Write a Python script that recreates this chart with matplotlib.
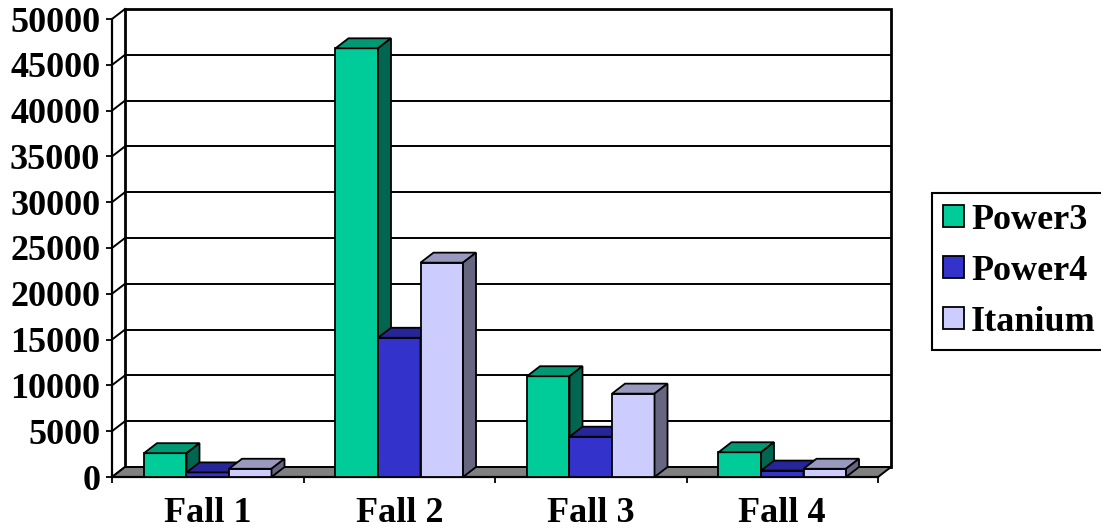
import matplotlib
matplotlib.use('Agg')
from matplotlib import pyplot as plt
from matplotlib.patches import Polygon, Patch

# chart data
categories = ['Fall 1', 'Fall 2', 'Fall 3', 'Fall 4']
series = ['Power3', 'Power4', 'Itanium']
power3 = [2600, 46800, 11000, 2700]
power4 = [500, 15200, 4400, 700]
itanium = [900, 23400, 9100, 900]
y_ticks = list(range(0, 50001, 5000))

# front, top, side shades of each series
front_colors = ['#00CC99', '#3333CC', '#CCCCFF']
top_colors = ['#009973', '#262699', '#9999BF']
side_colors = ['#006650', '#1A1A66', '#666680']

plt.rcParams['font.family'] = ['Liberation Serif', 'DejaVu Serif']
plt.rcParams['font.weight'] = 'bold'

W, H = 1101, 531
fig = plt.figure(figsize=(W / 100, H / 100), dpi=100)
ax = fig.add_axes([112 / W, (H - 477) / H, 766 / W, 458 / H])
ax.set_xlim(0, len(categories))
ax.set_ylim(0, y_ticks[-1])
ax.patch.set_visible(False)

# depth of the fake 3d box, from pixels to data units
dx = 13 * len(categories) / 766
dy = 10 * y_ticks[-1] / 458
n = len(categories)
top = y_ticks[-1]

# back wall
ax.add_patch(Polygon([(dx, dy), (n + dx, dy), (n + dx, top + dy), (dx, top + dy)],
                     closed=True, facecolor='white', edgecolor='black', lw=2,
                     clip_on=False, zorder=0))
for v in y_ticks[1:-1]:
    ax.plot([dx, n + dx], [v + dy, v + dy], color='black', lw=1.4,
            clip_on=False, zorder=0.5)
# left wall diagonals
for v in y_ticks:
    ax.plot([0, dx], [v, v + dy], color='black', lw=1.4, clip_on=False, zorder=0.5)

# floor
ax.add_patch(Polygon([(0, 0), (n, 0), (n + dx, dy), (dx, dy)], closed=True,
                     facecolor='#808080', edgecolor='black', lw=1.4,
                     clip_on=False, zorder=1))

bw = 0.222
centers = [i + 0.5 for i in range(n)]
for s, vals in enumerate([power3, power4, itanium]):
    xs = [c + (s - 1) * bw for c in centers]
    z = 3 + s
    ax.bar(xs, vals, width=bw, color=front_colors[s], edgecolor='black',
           lw=1.3, zorder=z)
    for x, v in zip(xs, vals):
        x0, x1 = x - bw / 2, x + bw / 2
        ax.add_patch(Polygon([(x0, v), (x1, v), (x1 + dx, v + dy), (x0 + dx, v + dy)],
                             closed=True, facecolor=top_colors[s], edgecolor='black',
                             lw=1.3, clip_on=False, zorder=z))
        ax.add_patch(Polygon([(x1, 0), (x1, v), (x1 + dx, v + dy), (x1 + dx, dy)],
                             closed=True, facecolor=side_colors[s], edgecolor='black',
                             lw=1.3, clip_on=False, zorder=z))

for side in ['top', 'right']:
    ax.spines[side].set_visible(False)
ax.spines['left'].set_linewidth(1.6)
ax.spines['bottom'].set_linewidth(1.6)
ax.spines['left'].set_zorder(2)
ax.spines['bottom'].set_zorder(2)

ax.set_yticks(y_ticks)
ax.set_yticklabels([str(v) for v in y_ticks])
ax.tick_params(axis='y', direction='out', length=4.5, width=1.3, pad=4,
               labelsize=26)
ax.set_xticks(range(n + 1))
ax.set_xticklabels([''] * (n + 1))
ax.set_xticks(centers, minor=True)
ax.set_xticklabels(categories, minor=True)
ax.tick_params(axis='x', which='major', direction='out', length=4.5, width=1.3)
ax.tick_params(axis='x', which='minor', length=0, pad=14.5, labelsize=26)

handles = [Patch(facecolor=c, edgecolor='black', lw=1.3) for c in front_colors]
leg = fig.legend(handles, series, loc='upper left',
                 bbox_to_anchor=(932 / W, 1 - 193 / H), fancybox=False,
                 edgecolor='black', framealpha=1, fontsize=26,
                 handlelength=0.58, handleheight=0.58, handletextpad=0.2,
                 labelspacing=0.5, borderpad=0.3, borderaxespad=0)
leg.get_frame().set_linewidth(1.5)

fig.savefig('out.png', dpi=100)
